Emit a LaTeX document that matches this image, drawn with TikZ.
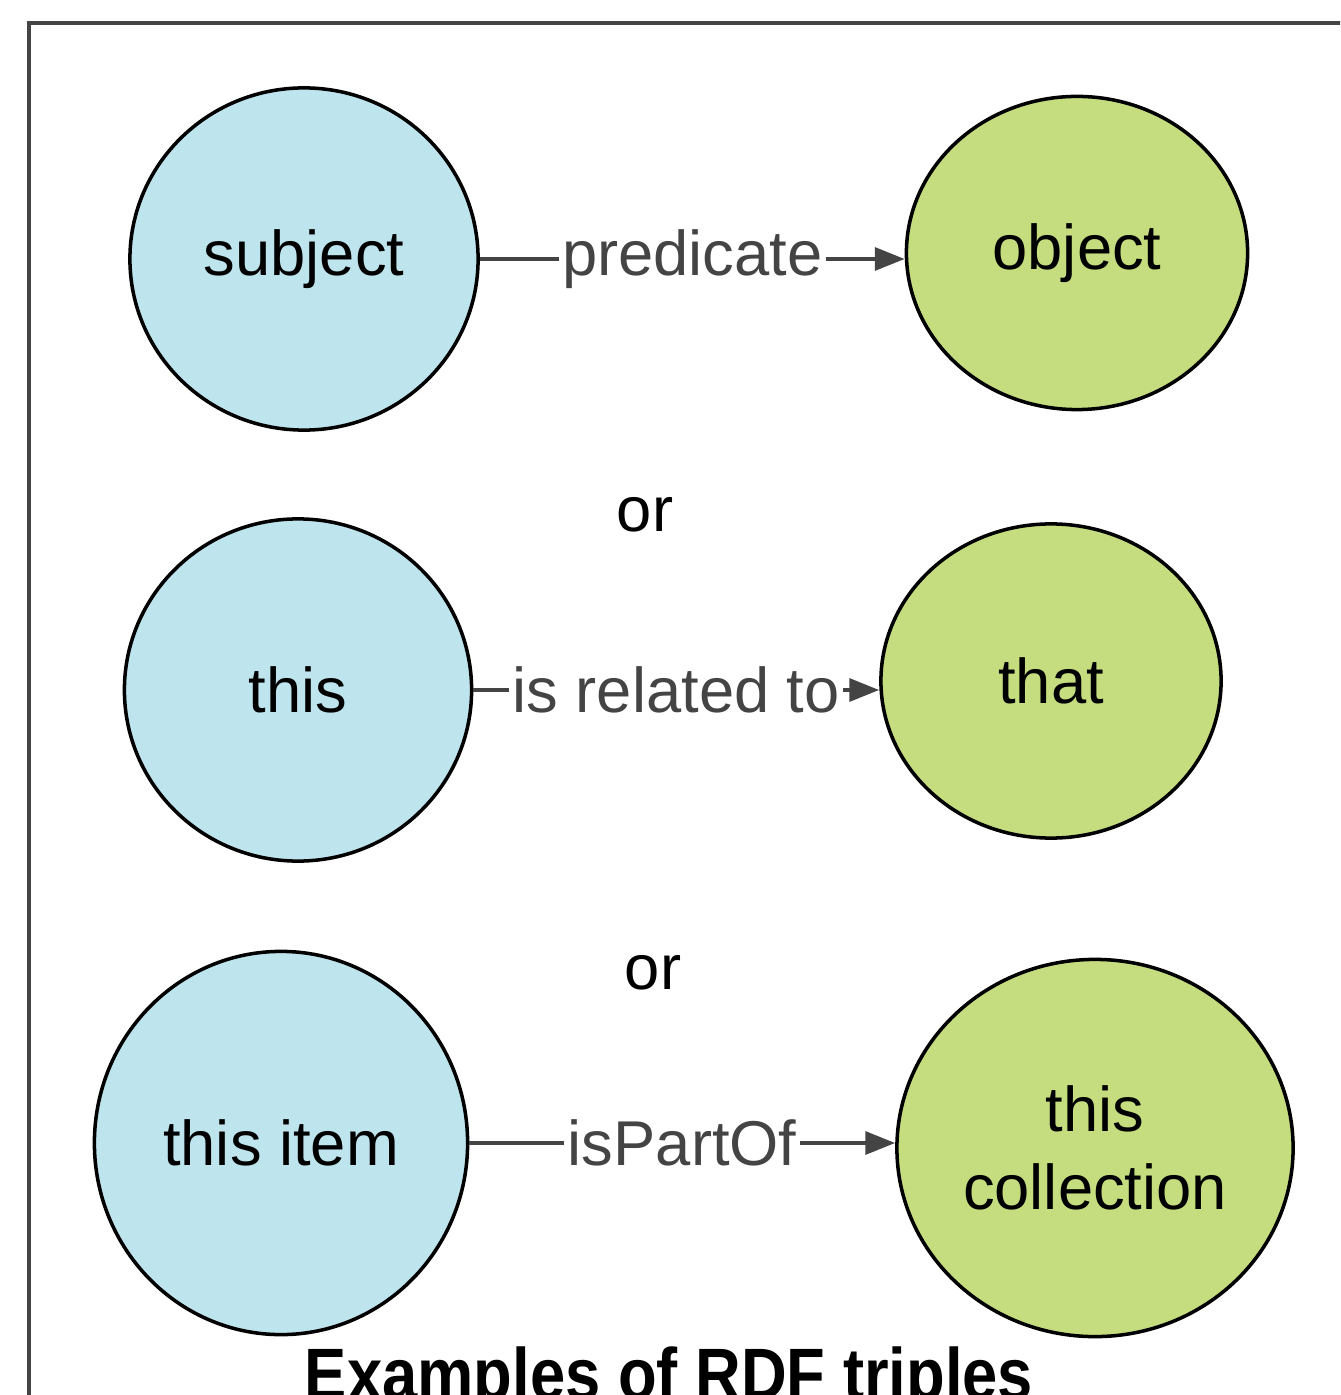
\documentclass[tikz,border=0pt]{standalone}
\usepackage{fontspec}
\setmainfont{Liberation Sans}
\usetikzlibrary{arrows.meta, shapes.geometric}
\definecolor{subjblue}{RGB}{190,228,238}
\definecolor{objgreen}{RGB}{197,221,127}
\definecolor{edgegray}{RGB}{68,68,68}
\tikzset{
  res/.style={ellipse, draw=black, line width=1pt, inner sep=0pt, align=center,
    font=\fontsize{18}{22}\selectfont},
  subj/.style={res, fill=subjblue},
  obj/.style={res, fill=objgreen},
  rel/.style={draw=edgegray, line width=1.1pt, -{Triangle[length=8.5pt,width=6.5pt]}},
  lbl/.style={fill=white, text=edgegray, inner sep=1pt, font=\fontsize{18}{22}\selectfont}
}

\begin{document}
\begin{tikzpicture}[x=0.01cm, y=-0.01cm]
\useasboundingbox (0,0) rectangle (1340,1395);
\clip (0,0) rectangle (1340,1395);
\draw[edgegray, line width=1.1pt] (29,23) rectangle (1400,1450);

\node[subj, minimum width=3.48cm, minimum height=3.42cm] (S1) at (304,259) {subject};
\node[obj, minimum width=3.41cm, minimum height=3.13cm] (O1) at (1077,253) {object};
\draw[rel] (S1.east) -- node[lbl] {predicate} (S1.east -| O1.west);

\node[font=\fontsize{18}{22}\selectfont] (or1) at (645,515) {or};

\node[subj, minimum width=3.47cm, minimum height=3.42cm] (S2) at (298,690) {this};
\node[obj, minimum width=3.40cm, minimum height=3.14cm] (O2) at (1051,681) {that};
\draw[rel] (S2.east) -- node[lbl] {is related to} (S2.east -| O2.west);

\node[font=\fontsize{18}{22}\selectfont] (or2) at (653,973) {or};

\node[subj, minimum width=3.73cm, minimum height=3.83cm] (S3) at (281,1143) {this item};
\node[obj, minimum width=3.96cm, minimum height=3.77cm] (O3) at (1095,1148) {this\\collection};
\draw[rel] (S3.east) -- node[lbl] {isPartOf} (S3.east -| O3.west);

\node[font=\bfseries\fontsize{18}{22}\selectfont, anchor=base] (title) at (669,1399)
  {\scalebox{1}[1.15]{Examples of RDF triples}};
\end{tikzpicture}
\end{document}
